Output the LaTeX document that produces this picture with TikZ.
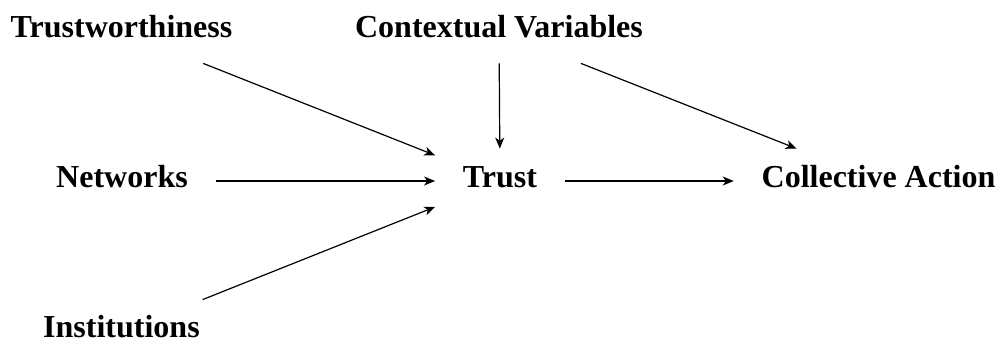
\documentclass[tikz,border=0pt]{standalone}
\usepackage{fontspec}
\setmainfont{Liberation Serif}
\usetikzlibrary{arrows.meta}

\begin{document}
\begin{tikzpicture}[
    factor/.style={inner xsep=13.75pt, inner ysep=8.5pt, text height=10.5pt, text depth=4.5pt,
                   font=\bfseries\fontsize{16}{19}\selectfont},
    link/.style={-{Stealth[length=5.5pt,width=4.5pt,inset=1.6pt]}, line width=0.6pt}
]
    \useasboundingbox (0,0) rectangle (17.538,-6.010);

    % Define nodes
    \node[factor] (tw) at (2.135,-0.545) {Trustworthiness};
    \node[factor] (cv) at (8.769,-0.545) {Contextual Variables};
    \node[factor] (nw) at (2.144,-3.181) {Networks};
    \node[factor] (trust) at (8.787,-3.181) {Trust};
    \node[factor] (ca) at (15.438,-3.181) {Collective Action};
    \node[factor] (inst) at (2.135,-5.834) {Institutions};

    % Arrows into trust
    \draw[link] (tw) -- (trust);
    \draw[link] (cv) -- (trust);
    \draw[link] (nw) -- (trust);
    \draw[link] (inst) -- (trust);

    % Arrows into collective action
    \draw[link] (cv) -- (ca);
    \draw[link] (trust) -- (ca);
\end{tikzpicture}
\end{document}
